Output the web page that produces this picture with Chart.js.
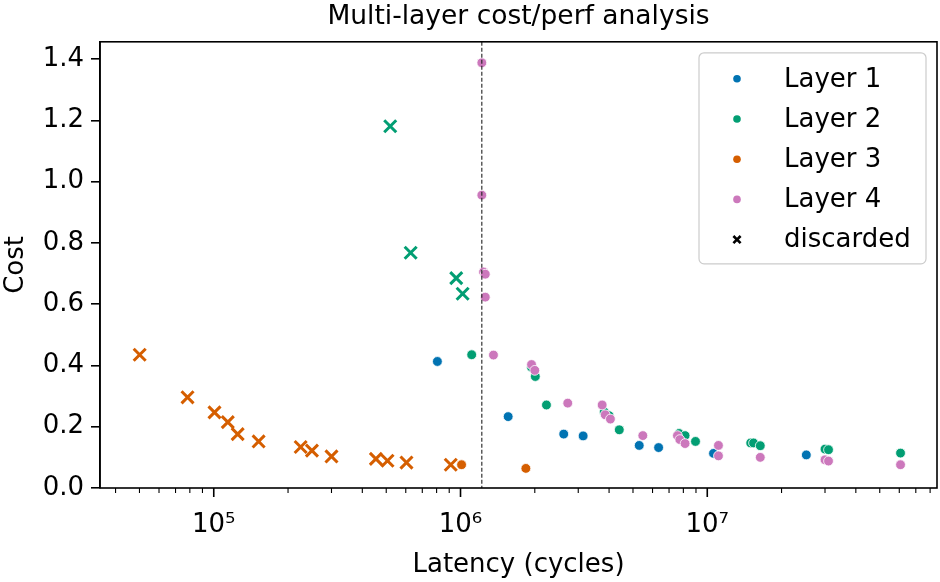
<!DOCTYPE html>
<html>
<head>
<meta charset="utf-8">
<script src="https://cdn.jsdelivr.net/npm/chart.js@4"></script>
<style>
html, body { margin: 0; padding: 0; background: #fff; }
#wrap { width: 940px; height: 582px; }
</style>
</head>
<body>
<div id="wrap"><canvas id="perf" width="940" height="582"></canvas></div>
<script>
const layerNames = ['Layer 1', 'Layer 2', 'Layer 3', 'Layer 4'];
const layerColors = ['#0173b2', '#029e73', '#d55e00', '#cc78bc'];
const discardedLabel = 'discarded';
const cutoffLatency = 1.22e6;

// kept points (latency in cycles, cost)
const l1Lat = [8.06e5, 1.56e6, 2.62e6, 3.14e6, 5.30e6, 6.35e6, 1.06e7, 2.52e7];
const l1Cost = [0.413, 0.233, 0.176, 0.170, 0.139, 0.132, 0.113, 0.108];
const l2Lat = [1.11e6, 1.94e6, 2.01e6, 2.23e6, 3.82e6, 4.00e6, 4.40e6, 7.69e6, 8.13e6, 8.96e6, 1.50e7, 1.54e7, 1.64e7, 3.0e7, 3.1e7, 6.07e7];
const l2Cost = [0.435, 0.394, 0.364, 0.271, 0.248, 0.236, 0.190, 0.178, 0.171, 0.152, 0.147, 0.147, 0.138, 0.127, 0.125, 0.114];
const l3Lat = [1.01e6, 1.84e6];
const l3Cost = [0.076, 0.064];
const l4Lat = [1.22e6, 1.22e6, 1.24e6, 1.26e6, 1.26e6, 1.36e6, 1.94e6, 2.00e6, 2.72e6, 3.75e6, 3.86e6, 4.05e6, 5.48e6, 7.57e6, 7.74e6, 8.13e6, 1.11e7, 1.11e7, 1.64e7, 3.0e7, 3.1e7, 6.07e7];
const l4Cost = [1.388, 0.956, 0.705, 0.698, 0.623, 0.434, 0.403, 0.384, 0.277, 0.271, 0.239, 0.225, 0.171, 0.171, 0.158, 0.145, 0.139, 0.105, 0.100, 0.092, 0.088, 0.076];

// discarded points
const l2DiscLat = [5.19e5, 6.28e5, 9.61e5, 1.02e6];
const l2DiscCost = [1.181, 0.768, 0.685, 0.634];
const l3DiscLat = [5.01e4, 7.83e4, 1.007e5, 1.14e5, 1.25e5, 1.52e5, 2.25e5, 2.50e5, 3.00e5, 4.54e5, 5.06e5, 6.04e5, 9.13e5];
const l3DiscCost = [0.435, 0.296, 0.247, 0.215, 0.176, 0.152, 0.134, 0.122, 0.103, 0.095, 0.089, 0.083, 0.076];

const yTicks = [0, 0.2, 0.4, 0.6, 0.8, 1.0, 1.2, 1.4];
const xLogMin = 4.539, xLogMax = 7.931;

const font = "'DejaVu Sans', sans-serif";
const fs = 26;
const pts = (xs, ys) => xs.map((x, i) => ({ x: x, y: ys[i] }));
const sup = { '4': '⁴', '5': '⁵', '6': '⁶', '7': '⁷' };

function keptSet(i, xs, ys) {
  return {
    label: layerNames[i], data: pts(xs, ys), order: 4 - i,
    pointStyle: 'circle', pointRadius: 4.9, pointHoverRadius: 4.9,
    backgroundColor: layerColors[i], borderColor: '#ffffff', borderWidth: 0.8
  };
}
function discSet(i, xs, ys) {
  return {
    label: layerNames[i] + ' ' + discardedLabel, data: pts(xs, ys), order: 8 - i,
    pointStyle: 'crossRot', pointRadius: 8.5, pointHoverRadius: 8.5,
    backgroundColor: layerColors[i], borderColor: layerColors[i], borderWidth: 3
  };
}

const extras = {
  id: 'extras',
  afterDatasetsDraw(chart) {
    const { ctx, chartArea: a, scales: { x } } = chart;
    const px = x.getPixelForValue(cutoffLatency);
    ctx.save();
    ctx.strokeStyle = '#222';
    ctx.lineWidth = 1.1;
    ctx.setLineDash([4, 2]);
    ctx.beginPath();
    ctx.moveTo(px, a.top);
    ctx.lineTo(px, a.bottom);
    ctx.stroke();
    ctx.restore();
  },
  afterDraw(chart) {
    const { ctx, chartArea: a, scales: { x } } = chart;
    ctx.save();
    // frame
    ctx.strokeStyle = '#000';
    ctx.lineWidth = 1.6;
    ctx.strokeRect(a.left, a.top, a.right - a.left, a.bottom - a.top);
    // x tick marks, major and minor
    x.ticks.forEach(t => {
      const p = x.getPixelForValue(t.value);
      ctx.lineWidth = t.major ? 1.6 : 1.1;
      ctx.beginPath();
      ctx.moveTo(p, a.bottom);
      ctx.lineTo(p, a.bottom + (t.major ? 9 : 5));
      ctx.stroke();
    });
    // legend
    const names = layerNames.concat([discardedLabel]);
    const bw = 227, bh = 211;
    const bx = a.right - 11 - bw, by = a.top + 11;
    ctx.fillStyle = 'rgba(255,255,255,0.8)';
    ctx.strokeStyle = '#cccccc';
    ctx.lineWidth = 1.2;
    ctx.beginPath();
    ctx.roundRect(bx, by, bw, bh, 5);
    ctx.fill();
    ctx.stroke();
    ctx.font = fs + 'px ' + font;
    ctx.textBaseline = 'middle';
    ctx.textAlign = 'left';
    names.forEach((n, i) => {
      const cy = by + 26 + i * 40.2;
      const mx = bx + 38;
      if (i < layerColors.length) {
        ctx.fillStyle = layerColors[i];
        ctx.beginPath();
        ctx.arc(mx, cy, 3.8, 0, Math.PI * 2);
        ctx.fill();
      } else {
        ctx.strokeStyle = '#000';
        ctx.lineWidth = 2.6;
        ctx.beginPath();
        ctx.moveTo(mx - 3.6, cy - 3.6); ctx.lineTo(mx + 3.6, cy + 3.6);
        ctx.moveTo(mx + 3.6, cy - 3.6); ctx.lineTo(mx - 3.6, cy + 3.6);
        ctx.stroke();
      }
      ctx.fillStyle = '#000';
      ctx.fillText(n, bx + 85, cy + 1);
    });
    ctx.restore();
  }
};

new Chart(document.getElementById('perf'), {
  type: 'scatter',
  data: {
    datasets: [
      keptSet(0, l1Lat, l1Cost),
      keptSet(1, l2Lat, l2Cost),
      keptSet(2, l3Lat, l3Cost),
      keptSet(3, l4Lat, l4Cost),
      discSet(1, l2DiscLat, l2DiscCost),
      discSet(2, l3DiscLat, l3DiscCost)
    ]
  },
  options: {
    responsive: false,
    animation: false,
    devicePixelRatio: 1,
    layout: { autoPadding: false, padding: { left: 0, right: 3, top: 0, bottom: 0 } },
    plugins: {
      legend: { display: false },
      tooltip: { enabled: false },
      title: {
        display: true,
        fullSize: false,
        text: 'Multi-layer cost/perf analysis',
        color: '#000',
        font: { family: font, size: 26.5, weight: 'normal' },
        padding: { top: 1, bottom: 9 }
      }
    },
    scales: {
      x: {
        type: 'logarithmic',
        min: Math.pow(10, xLogMin),
        max: Math.pow(10, xLogMax),
        grid: { display: false },
        border: { display: false },
        afterBuildTicks(scale) {
          const ticks = [];
          for (let e = 4; e <= 7; e++) {
            for (let m = 1; m <= 9; m++) {
              const v = m * Math.pow(10, e);
              if (v >= scale.min && v <= scale.max) ticks.push({ value: v, major: m === 1 });
            }
          }
          scale.ticks = ticks;
        },
        afterFit(scale) {
          scale.height = 94;
          scale.paddingLeft = 0;
          scale.paddingRight = 0;
        },
        ticks: {
          autoSkip: false,
          maxRotation: 0,
          padding: 14,
          color: '#000',
          font: { family: font, size: fs },
          callback(v) {
            const e = Math.round(Math.log10(v));
            return Math.abs(v - Math.pow(10, e)) < 1e-6 * v ? '10' + sup[String(e)] : '';
          }
        },
        title: {
          display: true,
          text: 'Latency (cycles)',
          color: '#000',
          font: { family: font, size: fs },
          padding: { top: 0, bottom: 1 }
        }
      },
      y: {
        min: 0,
        max: 1.4565,
        afterBuildTicks(scale) { scale.ticks = yTicks.map(v => ({ value: v })); },
        afterFit(scale) { scale.width = 100; },
        grid: { drawOnChartArea: false, drawTicks: true, tickLength: 9, color: '#000', lineWidth: 1.6 },
        border: { display: true, color: '#000', width: 1.6 },
        ticks: {
          padding: 7,
          color: '#000',
          font: { family: font, size: fs },
          callback: v => v.toFixed(1)
        },
        title: {
          display: true,
          text: 'Cost',
          color: '#000',
          font: { family: font, size: fs },
          padding: { top: 1, bottom: 0 }
        }
      }
    }
  },
  plugins: [extras]
});
</script>
</body>
</html>
